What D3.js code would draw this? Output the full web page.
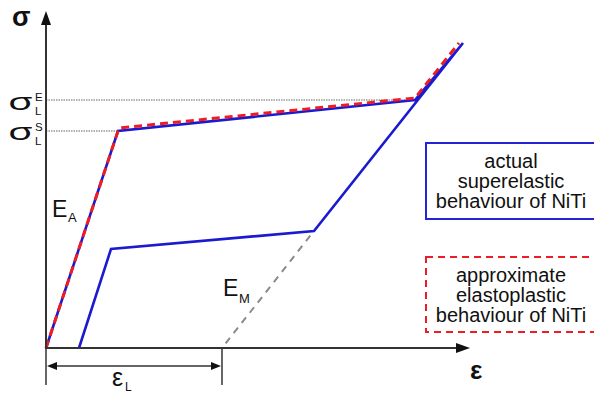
<!DOCTYPE html>
<html><head><meta charset="utf-8">
<script src="https://cdn.jsdelivr.net/npm/d3@7"></script>
<style>body{margin:0;background:#fff}svg{display:block;font-family:"Liberation Sans",Arial,sans-serif}</style>
</head><body>
<script>
// Data (strain in %, stress in MPa – schematic units)
const strainBlueLoad = [0, 1.8, 9.225, 10.425];
const stressBlueLoad = [0, 434, 496, 610];
const strainBlueUnload = [10.425, 6.7, 1.625, 0.825];
const stressBlueUnload = [610, 234, 198, 0];
const strainRed = [0, 1.825, 9.225, 10.325];
const stressRed = [0, 440, 500, 610];
const strainEM = [6.7, 4.4];
const stressEM = [234, 0];
const sigmaS = 434, sigmaE = 496, epsL = 4.4, plateauEnd = 9.225, loadCorner = 1.8;
const axisMaxStrain = 10.6, axisMaxStress = 674;
const legendLabels = [["actual", "superelastic", "behaviour of NiTi"], ["approximate", "elastoplastic", "behaviour of NiTi"]];

const W = 594, H = 395;
const x = d3.scaleLinear().domain([0, 13.7]).range([46, 594]);
const y = d3.scaleLinear().domain([0, 696]).range([348, 0]);
const svg = d3.select("body").append("svg").attr("width", W).attr("height", H);
const line = d3.line().x(d => x(d[0])).y(d => y(d[1]));
const zip = (a, b) => a.map((v, i) => [v, b[i]]);

// dotted reference lines
svg.append("line").attr("x1", x(0)).attr("x2", x(plateauEnd)).attr("y1", y(sigmaE)).attr("y2", y(sigmaE))
  .attr("stroke", "#999").attr("stroke-width", 1.5).attr("stroke-dasharray", "1.5,1");
svg.append("line").attr("x1", x(0)).attr("x2", x(loadCorner)).attr("y1", y(sigmaS)).attr("y2", y(sigmaS))
  .attr("stroke", "#999").attr("stroke-width", 1.5).attr("stroke-dasharray", "1.5,1");

// E_M dashed
svg.append("path").attr("d", line(zip(strainEM, stressEM))).attr("fill", "none")
  .attr("stroke", "#8a8a8a").attr("stroke-width", 2).attr("stroke-dasharray", "7,6").attr("stroke-dashoffset", -6);

// blue curve
svg.append("path").attr("d", line(zip(strainBlueLoad, stressBlueLoad).concat(zip(strainBlueUnload, stressBlueUnload).slice(1))))
  .attr("fill", "none").attr("stroke", "#1a1ad0").attr("stroke-width", 2.6).attr("stroke-linejoin", "miter");
// red dashed
svg.append("path").attr("d", line(zip(strainRed, stressRed))).attr("fill", "none")
  .attr("stroke", "#ee1c24").attr("stroke-width", 3).attr("stroke-dasharray", "8,5");

// axes
const axCol = "#333";
svg.append("line").attr("x1", x(0)).attr("x2", x(0)).attr("y1", y(0)).attr("y2", y(axisMaxStress) + 12)
  .attr("stroke", axCol).attr("stroke-width", 2);
svg.append("path").attr("d", `M${x(0)},${y(axisMaxStress)} L${x(0) - 5},${y(axisMaxStress) + 14} L${x(0) + 5},${y(axisMaxStress) + 14}Z`).attr("fill", "#111");
svg.append("line").attr("x1", x(0) - 1).attr("x2", x(axisMaxStrain) - 12).attr("y1", y(0)).attr("y2", y(0))
  .attr("stroke", axCol).attr("stroke-width", 2);
svg.append("path").attr("d", `M${x(axisMaxStrain)},${y(0)} L${x(axisMaxStrain) - 14},${y(0) - 5} L${x(axisMaxStrain) - 14},${y(0) + 5}Z`).attr("fill", "#111");

// epsilon_L dimension
svg.append("line").attr("x1", x(0)).attr("x2", x(0)).attr("y1", y(0)).attr("y2", 385).attr("stroke", axCol).attr("stroke-width", 1.5);
svg.append("line").attr("x1", x(epsL)).attr("x2", x(epsL)).attr("y1", y(0)).attr("y2", 385).attr("stroke", axCol).attr("stroke-width", 1.5);
const dy = 366;
svg.append("line").attr("x1", x(0) + 8).attr("x2", x(epsL) - 8).attr("y1", dy).attr("y2", dy).attr("stroke", axCol).attr("stroke-width", 1.5);
svg.append("path").attr("d", `M${x(0) + 1},${dy} L${x(0) + 11},${dy - 4} L${x(0) + 11},${dy + 4}Z`).attr("fill", "#111");
svg.append("path").attr("d", `M${x(epsL) - 1},${dy} L${x(epsL) - 11},${dy - 4} L${x(epsL) - 11},${dy + 4}Z`).attr("fill", "#111");

// labels
const txt = (t, px, py, size, weight) => svg.append("text").attr("x", px).attr("y", py)
  .attr("font-size", size).attr("font-weight", weight || "normal").attr("fill", "#111").text(t);
txt("σ", 12, 26, 27, "bold");
txt("ε", 470, 379, 26, "bold");
// sigma_L^E
txt("σ", 8, 110, 23).attr("font-family", "'Noto Sans', sans-serif").attr("textLength", 25).attr("lengthAdjust", "spacingAndGlyphs");
txt("E", 35, 101, 11.5);
txt("L", 35, 115, 11.5);
// sigma_L^S
txt("σ", 8, 140, 23).attr("font-family", "'Noto Sans', sans-serif").attr("textLength", 25).attr("lengthAdjust", "spacingAndGlyphs");
txt("S", 35, 131, 11.5);
txt("L", 35, 145, 11.5);
// E_A, E_M
txt("E", 52, 217, 23);
txt("A", 68, 222, 13);
txt("E", 223, 296, 23);
txt("M", 239, 303, 13);
// eps_L
txt("ε", 112, 386, 25);
txt("L", 125, 391, 12);

// legend boxes
const boxes = [{y0: 143, y1: 219, stroke: "#2424d4", dash: null, sw: 2},
               {y0: 257, y1: 332, stroke: "#ee1c24", dash: "7,5", sw: 2}];
boxes.forEach((b, i) => {
  svg.append("rect").attr("x", 426).attr("y", b.y0).attr("width", 180).attr("height", b.y1 - b.y0)
    .attr("fill", "none").attr("stroke", b.stroke).attr("stroke-width", b.sw).attr("stroke-dasharray", b.dash);
  const mid = (b.y0 + b.y1) / 2;
  legendLabels[i].forEach((s, j) => {
    svg.append("text").attr("x", 511).attr("y", mid + 7 + (j - 1) * 20).attr("text-anchor", "middle")
      .attr("font-size", 20).attr("fill", "#111").text(s);
  });
});
</script>
</body></html>
